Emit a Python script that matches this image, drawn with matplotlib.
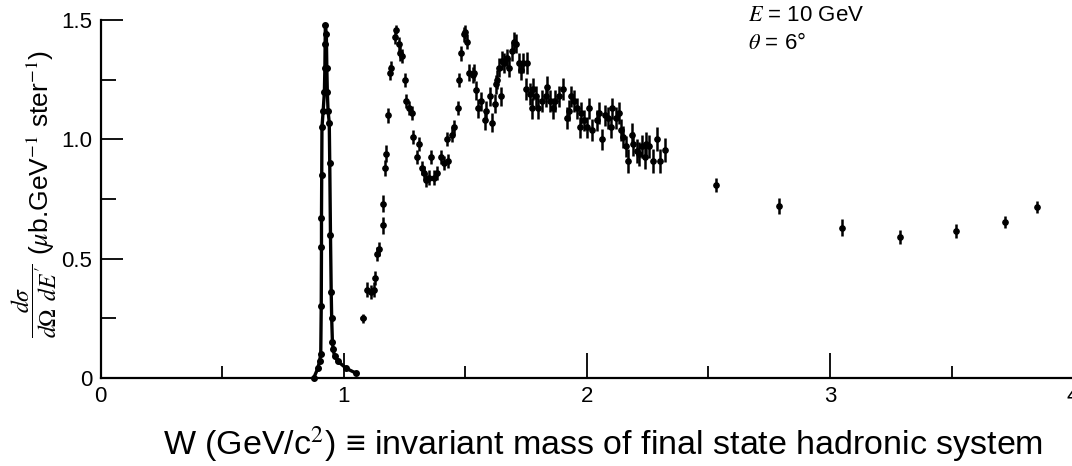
import matplotlib
matplotlib.use("Agg")
import matplotlib.pyplot as plt
from matplotlib.ticker import MultipleLocator

plt.rcParams["font.family"] = ["Liberation Sans", "DejaVu Sans"]
plt.rcParams["mathtext.fontset"] = "stix"

# elastic peak, drawn as a dense run of points
elastic_w = [0.876, 0.893, 0.900, 0.905, 0.907, 0.908, 0.908, 0.909, 0.910, 0.915, 0.920,
             0.922, 0.923, 0.924, 0.928, 0.930, 0.932, 0.935, 0.940, 0.942, 0.945, 0.948,
             0.950, 0.953, 0.956, 0.962, 0.975, 1.010, 1.050]
elastic_xs = [0.00, 0.04, 0.07, 0.10, 0.30, 0.55, 0.67, 0.85, 1.05, 1.12, 1.20,
              1.30, 1.40, 1.48, 1.44, 1.30, 1.20, 1.12, 1.07, 0.90, 0.60, 0.36,
              0.25, 0.15, 0.12, 0.09, 0.07, 0.04, 0.02]

# threshold points (with W bins)
thr_w = [1.080, 1.095, 1.110, 1.125]
thr_xs = [0.25, 0.37, 0.36, 0.37]
thr_werr = [0.012, 0.008, 0.008, 0.008]
thr_err = [0.02, 0.03, 0.03, 0.03]

# resonance region
res_w = [1.130, 1.135, 1.146, 1.160, 1.163, 1.170, 1.175, 1.180, 1.190, 1.195,
         1.210, 1.215, 1.225, 1.230, 1.240, 1.250, 1.257, 1.270, 1.280, 1.285,
         1.300, 1.310, 1.320, 1.330, 1.340, 1.350, 1.360, 1.370, 1.385, 1.400,
         1.410, 1.425, 1.430, 1.445, 1.455, 1.470, 1.475, 1.480, 1.495, 1.500,
         1.505, 1.515, 1.530, 1.535, 1.545, 1.550, 1.565, 1.580, 1.585, 1.600,
         1.610, 1.620, 1.625, 1.630, 1.640, 1.645, 1.650, 1.660, 1.670, 1.680,
         1.690, 1.700, 1.710, 1.720, 1.730, 1.737, 1.750, 1.755, 1.765, 1.775,
         1.780, 1.790, 1.800, 1.815, 1.830, 1.835, 1.850, 1.860, 1.870, 1.885,
         1.900, 1.920, 1.925, 1.935, 1.945, 1.960, 1.970, 1.975, 1.990, 2.000,
         2.010, 2.020, 2.040, 2.050, 2.060, 2.075, 2.085, 2.100, 2.105, 2.120,
         2.130, 2.140, 2.150, 2.160, 2.170, 2.185, 2.190, 2.205, 2.215, 2.225,
         2.240, 2.245, 2.255, 2.270, 2.290, 2.300, 2.320]
res_xs = [0.42, 0.52, 0.54, 0.64, 0.73, 0.88, 0.94, 1.10, 1.28, 1.30,
          1.43, 1.46, 1.40, 1.36, 1.35, 1.25, 1.16, 1.13, 1.11, 1.01,
          0.925, 0.98, 0.88, 0.86, 0.83, 0.84, 0.925, 0.84, 0.86, 0.925,
          0.90, 1.00, 0.91, 1.02, 1.05, 1.13, 1.25, 1.36, 1.44, 1.45,
          1.41, 1.28, 1.27, 1.28, 1.205, 1.13, 1.16, 1.08, 1.12, 1.18,
          1.07, 1.15, 1.23, 1.25, 1.30, 1.18, 1.33, 1.32, 1.34, 1.30,
          1.37, 1.41, 1.40, 1.32, 1.29, 1.32, 1.21, 1.32, 1.19, 1.13,
          1.21, 1.18, 1.13, 1.16, 1.18, 1.22, 1.16, 1.13, 1.16, 1.18,
          1.21, 1.09, 1.12, 1.18, 1.16, 1.13, 1.05, 1.11, 1.08, 1.05,
          1.13, 1.04, 1.08, 1.11, 1.00, 1.10, 1.09, 1.05, 1.13, 1.09,
          1.11, 1.04, 1.01, 0.97, 0.91, 1.02, 0.98, 0.95, 0.94, 0.97,
          0.925, 0.98, 0.97, 0.91, 1.00, 0.91, 0.955]
res_err = [0.03, 0.03, 0.03, 0.035, 0.035, 0.035, 0.035, 0.03, 0.03, 0.03,
           0.03, 0.02, 0.03, 0.03, 0.03, 0.03, 0.03, 0.03, 0.03, 0.03,
           0.03, 0.03, 0.03, 0.03, 0.03, 0.03, 0.03, 0.03, 0.03, 0.03,
           0.03, 0.03, 0.03, 0.03, 0.03, 0.03, 0.03, 0.03, 0.03, 0.03,
           0.03, 0.035, 0.035, 0.035, 0.04, 0.04, 0.04, 0.04, 0.04, 0.04,
           0.04, 0.04, 0.04, 0.04, 0.04, 0.04, 0.04, 0.04, 0.04, 0.04,
           0.04, 0.04, 0.04, 0.04, 0.04, 0.04, 0.045, 0.045, 0.045, 0.045,
           0.045, 0.045, 0.045, 0.045, 0.045, 0.045, 0.045, 0.045, 0.045, 0.045,
           0.045, 0.045, 0.045, 0.045, 0.045, 0.045, 0.045, 0.045, 0.045, 0.045,
           0.045, 0.045, 0.045, 0.045, 0.045, 0.045, 0.045, 0.045, 0.045, 0.045,
           0.045, 0.045, 0.045, 0.045, 0.05, 0.05, 0.05, 0.05, 0.05, 0.05,
           0.05, 0.05, 0.05, 0.05, 0.05, 0.05, 0.05]

# deep inelastic points at high W
dis_w = [2.53, 2.79, 3.05, 3.29, 3.52, 3.72, 3.85]
dis_xs = [0.81, 0.72, 0.63, 0.59, 0.615, 0.655, 0.715]
dis_err = [0.03, 0.035, 0.035, 0.03, 0.03, 0.025, 0.025]

fig = plt.figure(figsize=(10.72, 4.66), dpi=100)
ax = fig.add_axes([0.094, 0.189, 0.907, 0.768])

ax.plot(elastic_w, elastic_xs, "-", color="black", lw=2.4, clip_on=False)
ax.plot(elastic_w, elastic_xs, "o", color="black", ms=4, clip_on=False)

ebar = dict(fmt="o", color="black", ms=3.8, elinewidth=1.8, capsize=0, clip_on=False)
ax.errorbar(thr_w, thr_xs, yerr=thr_err, xerr=thr_werr, **ebar)
ax.errorbar(res_w, res_xs, yerr=res_err, **ebar)
ax.errorbar(dis_w, dis_xs, yerr=dis_err, **ebar)

ax.set_xlim(0, 4)
ax.set_ylim(0, 1.5)
for s in ("top", "right"):
    ax.spines[s].set_visible(False)
for s in ("left", "bottom"):
    ax.spines[s].set_linewidth(1.6)

ax.set_xticks([0, 1, 2, 3, 4])
ax.set_xticklabels(["0", "1", "2", "3", "4"])
ax.set_yticks([0, 0.5, 1.0, 1.5])
ax.set_yticklabels(["0", "0.5", "1.0", "1.5"])
ax.xaxis.set_minor_locator(MultipleLocator(0.5))
ax.yaxis.set_minor_locator(MultipleLocator(0.25))
ax.tick_params(axis="x", which="major", direction="in", length=18, width=1.3,
               labelsize=16, pad=6)
ax.tick_params(axis="x", which="minor", direction="in", length=9, width=1.3)
ax.tick_params(axis="y", which="major", direction="in", length=16, width=1.3,
               labelsize=16, pad=6)
ax.tick_params(axis="y", which="minor", direction="in", length=11, width=1.3)

# y label: fraction and units set as two rotated pieces
fig.text(0.038, 0.672, r"($\mu$b.GeV$^{-1}$ ster$^{-1}$)", fontsize=19,
         rotation=90, ha="center", va="center")
fig.text(0.032, 0.354, r"$\dfrac{d\sigma}{d\Omega\ \,dE'}$", fontsize=17,
         rotation=90, ha="center", va="center")

fig.text(0.698, 0.966, r"$E$ = 10 GeV", fontsize=16, va="center", ha="left")
fig.text(0.698, 0.906, r"$\theta$ = 6°", fontsize=16, va="center", ha="left")

fig.text(0.563, 0.047, "W (GeV/c$^2$) ≡ invariant mass of final state hadronic system",
         fontsize=24.5, ha="center", va="center")

fig.savefig("out.png", dpi=100)
